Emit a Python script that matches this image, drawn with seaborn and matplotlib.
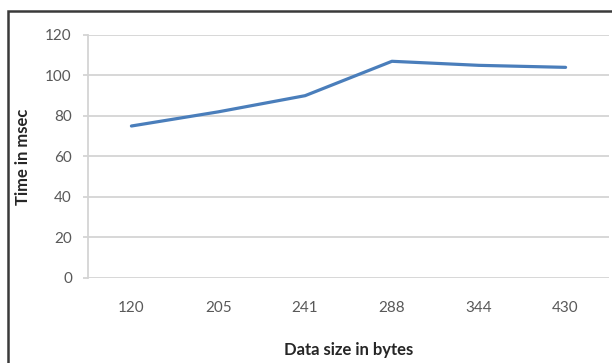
import matplotlib
matplotlib.use("Agg")
import matplotlib.pyplot as plt
from matplotlib.patches import Rectangle
import seaborn as sns
import pandas as pd

# Data: response time against payload size
data_sizes = ["120", "205", "241", "288", "344", "430"]
times_msec = [75, 82, 90, 107, 105, 104]
y_ticks = [0, 20, 40, 60, 80, 100, 120]

df = pd.DataFrame({"size": data_sizes, "time": times_msec})

sns.set_theme(style="white")
plt.rcParams["font.family"] = ["Lato", "DejaVu Sans"]

fig = plt.figure(figsize=(6.12, 3.63), dpi=100)
ax = fig.add_axes([88 / 612, (363 - 277.7) / 363, 521 / 612, 242.7 / 363])

sns.lineplot(data=df, x="size", y="time", sort=False, ax=ax,
             color="#4a7ebb", linewidth=2.3)

ax.set_xlim(-0.5, len(data_sizes) - 0.5)
ax.set_ylim(0, 120)
ax.set_yticks(y_ticks)
ax.set_yticklabels([str(v) for v in y_ticks])

grid_color = "#d4d4d4"
ax.grid(axis="y", color=grid_color, linewidth=1.3)
ax.set_axisbelow(True)
for side in ["top", "right", "bottom"]:
    ax.spines[side].set_visible(False)
ax.spines["left"].set_color(grid_color)
ax.spines["left"].set_linewidth(1.3)

ax.tick_params(axis="y", length=3.6, width=1.3, color=grid_color,
               pad=8, labelsize=11, labelcolor="#595959", left=True)
ax.tick_params(axis="x", length=0, pad=16.5, labelsize=11,
               labelcolor="#595959")

ax.set_xlabel("Data size in bytes", fontsize=12, fontweight="bold",
              color="#262626")
ax.set_ylabel("Time in msec", fontsize=12, fontweight="bold",
              color="#262626")
ax.xaxis.set_label_coords(0.5, (277.7 - 342) / 242.7)
ax.yaxis.set_label_coords((31 - 88) / 521, 0.5)

# Outer frame around the chart
fig.patches.append(Rectangle((8 / 612, -0.05), 1.1, (363 - 11) / 363 + 0.05,
                             transform=fig.transFigure, fill=False,
                             edgecolor="#3a3a3a", linewidth=1.8))

fig.savefig("out.png", dpi=100)
